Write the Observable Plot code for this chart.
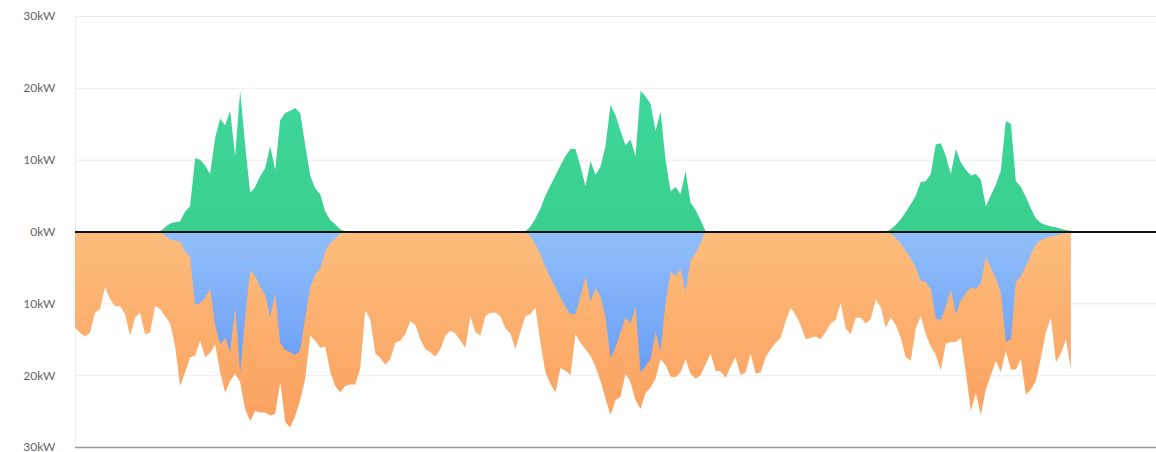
<!DOCTYPE html>
<html><head><meta charset="utf-8">
<script src="https://cdn.jsdelivr.net/npm/d3@7"></script>
<script src="https://cdn.jsdelivr.net/npm/@observablehq/plot@0.6"></script>
<style>body{margin:0;background:#fff;} #chart svg{display:block;}</style>
</head><body><div id="chart"></div>
<script>
// samples every 20 minutes over three days (hours 0..66.33)
const stepMinutes = 20;
const dayHours = 72; // x-axis spans three days

// household consumption, kW (drawn downward)
const consumption = [
13.4,14.1,14.6,14.1,11.3,10.8,7.8,9.4,10.4,10.4,
11.5,14.5,12.0,11.3,14.3,14.1,10.4,10.8,11.8,12.8,
15.9,21.5,19.6,17.5,17.3,15.2,17.5,16.9,15.7,19.6,
22.4,20.8,19.8,21.0,24.7,26.4,25.0,25.2,25.2,25.6,
25.4,21.0,26.5,27.3,25.7,23.5,20.5,14.5,15.2,16.2,
16.0,19.6,21.5,22.4,21.5,21.3,21.3,19.0,11.0,12.2,
17.0,17.6,18.5,17.8,15.5,15.2,14.3,12.5,13.0,15.0,
16.4,16.8,17.4,16.4,14.5,13.8,14.2,15.2,16.2,11.8,
14.0,14.5,11.8,11.3,11.3,11.8,13.5,14.2,16.4,14.0,
11.8,11.5,10.6,15.5,19.6,21.2,22.4,19.0,19.4,20.0,
14.3,15.5,16.4,17.3,18.8,20.8,23.3,25.5,23.5,23.0,
19.8,21.0,23.5,24.7,22.5,21.7,20.5,17.8,18.6,20.2,
20.3,19.6,17.8,19.8,20.5,20.0,18.5,17.0,19.4,19.5,
20.4,18.8,17.5,20.0,19.6,17.0,19.8,19.6,17.5,16.4,
15.5,14.8,12.5,10.6,11.6,13.0,15.0,14.8,14.6,15.0,
14.0,12.8,12.3,10.0,13.5,14.3,12.0,12.0,12.8,12.2,
9.5,10.5,13.4,12.0,13.0,14.8,17.5,18.0,13.5,11.8,
14.3,16.0,17.2,19.3,15.6,15.4,15.4,14.8,19.6,25.0,
22.5,25.5,22.0,20.0,18.0,19.6,16.6,19.2,19.2,17.8,
22.7,22.0,20.8,17.6,14.0,12.0,18.2,17.0,15.0,19.2
];

// solar production, kW (drawn upward)
const production = [
0,0,0,0,0,0,0,0,0,0,
0,0,0,0,0,0,0,0,0.6,1.1,
1.3,1.4,2.8,3.5,10.2,10.0,9.2,8.0,13.0,15.7,
14.8,16.8,10.5,19.6,12.0,5.4,6.2,7.7,8.8,11.9,
8.6,15.5,16.5,16.8,17.2,16.5,12.0,7.8,6.0,5.2,
2.8,1.6,1.0,0.3,0,0,0,0,0,0,
0,0,0,0,0,0,0,0,0,0,
0,0,0,0,0,0,0,0,0,0,
0,0,0,0,0,0,0,0,0,0,
0,0.7,1.8,3.2,5.0,6.4,7.8,9.2,10.5,11.5,
11.5,9.1,6.3,9.8,7.9,9.0,11.9,17.6,16.2,14.0,
12.0,12.8,10.5,19.6,18.8,17.8,14.0,16.7,10.0,5.6,
6.2,5.2,8.4,4.0,3.0,1.6,0,0,0,0,
0,0,0,0,0,0,0,0,0,0,
0,0,0,0,0,0,0,0,0,0,
0,0,0,0,0,0,0,0,0,0,
0,0,0,0.3,0.9,1.7,2.7,3.8,5.0,6.9,
7.0,8.0,12.1,12.3,10.5,8.0,11.5,9.6,8.6,7.8,
8.0,7.2,3.5,5.0,6.5,8.5,15.4,15.0,7.0,6.2,
4.8,3.2,1.8,1.2,0.9,0.7,0.6,0.4,0.2,0.1
];

const yTicks = [-30, -20, -10, 0, 10, 20, 30];
const unit = "kW";

const rows = consumption.map((c, i) => ({
  t: i * stepMinutes / 60,
  cons: -c,
  self: -Math.min(c, production[i]),
  prod: production[i]
}));

const defs = () => {
  const g = d3.create("svg:defs");
  const o = g.append("linearGradient").attr("id", "gOrange").attr("x1", 0).attr("x2", 0).attr("y1", 0).attr("y2", 1);
  o.append("stop").attr("offset", "0%").attr("stop-color", "#fdbd7c");
  o.append("stop").attr("offset", "100%").attr("stop-color", "#fba05f");
  const b = g.append("linearGradient").attr("id", "gBlue").attr("x1", 0).attr("x2", 0).attr("y1", 0).attr("y2", 1);
  b.append("stop").attr("offset", "0%").attr("stop-color", "#92bffb");
  b.append("stop").attr("offset", "100%").attr("stop-color", "#6a9ef5");
  const gr = g.append("linearGradient").attr("id", "gGreen").attr("x1", 0).attr("x2", 0).attr("y1", 0).attr("y2", 1);
  gr.append("stop").attr("offset", "0%").attr("stop-color", "#3fd69a");
  gr.append("stop").attr("offset", "100%").attr("stop-color", "#38cf8f");
  return g.node();
};

const chart = Plot.plot({
  width: 1156,
  height: 452,
  marginLeft: 75,
  marginRight: 0,
  marginTop: 16,
  marginBottom: 5,
  style: {fontFamily: "Lato, 'Open Sans', sans-serif", fontSize: "12px", background: "#fff"},
  x: {domain: [0, dayHours], axis: null},
  y: {domain: [-30, 30], axis: null},
  marks: [
    defs,
    Plot.gridY(yTicks, {stroke: "#ececec", strokeOpacity: 1, strokeWidth: 1}),
    Plot.ruleX([0], {stroke: "#f0f0f0"}),
    Plot.areaY(rows, {x: "t", y1: 0, y2: "cons", fill: "url(#gOrange)"}),
    Plot.areaY(rows, {x: "t", y1: 0, y2: "self", fill: "url(#gBlue)"}),
    Plot.areaY(rows, {x: "t", y1: 0, y2: "prod", fill: "url(#gGreen)"}),
    Plot.ruleY([-30], {stroke: "#9a9a9a", strokeWidth: 1.5}),
    Plot.ruleY([0], {stroke: "#111", strokeWidth: 2.2}),
    Plot.axisY(yTicks, {
      tickSize: 0,
      tickPadding: 20,
      tickFormat: d => Math.abs(d) + unit,
      fill: "#666",
      fontSize: 12
    })
  ]
});
document.getElementById("chart").appendChild(chart);
</script>
</body></html>
